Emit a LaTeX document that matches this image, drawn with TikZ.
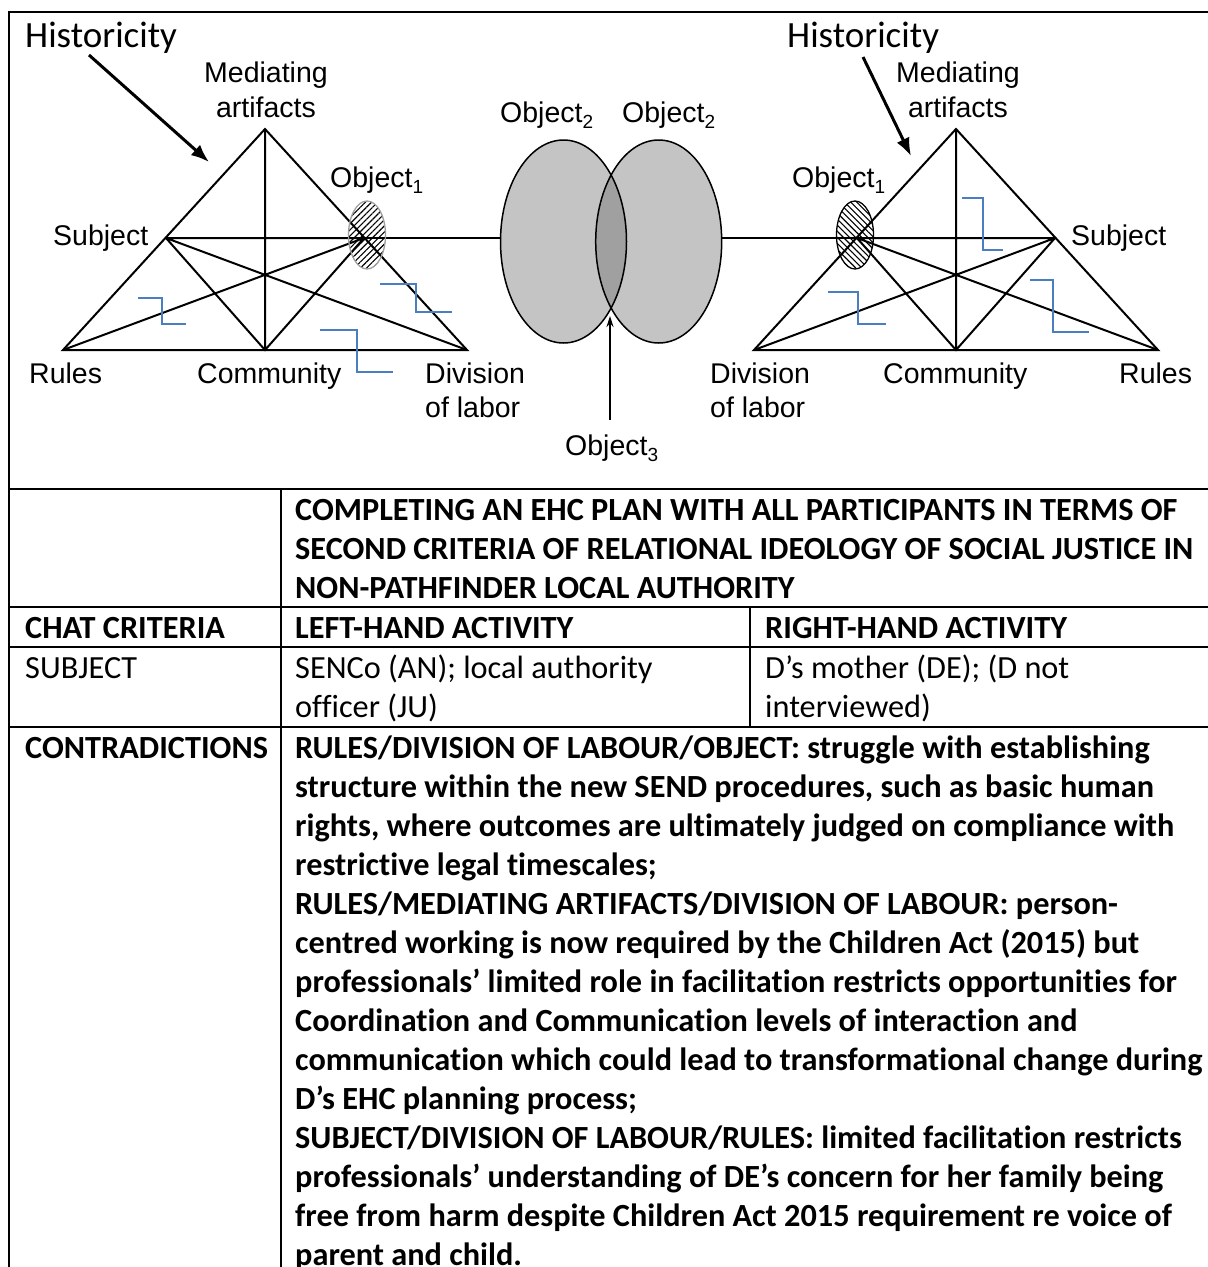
\documentclass[tikz,border=0pt]{standalone}
\usepackage{fontspec}
\setmainfont{Carlito}[Ligatures=NoCommon]
\newfontfamily\helv{Liberation Sans}
\usetikzlibrary{arrows.meta,patterns.meta,shapes.geometric}

\definecolor{objgray}{RGB}{196,196,196}
\definecolor{objdark}{RGB}{160,160,160}
\definecolor{stairblue}{RGB}{74,126,193}

% lowered index for Object_n labels
\newcommand\lowidx[1]{\raisebox{-6pt}{\fontsize{19}{19}\selectfont #1}}
% strut fixing the first baseline of a table cell
\newcommand\cellstrut{\rule{0pt}{31.5pt}}

\begin{document}
\begin{tikzpicture}[x=1pt,y=-1pt,
  tri/.style={line width=2pt, line join=miter},
  stair/.style={draw=stairblue, line width=1.6pt},
  lbl/.style={font=\helv\fontsize{28.5}{34}\selectfont, inner sep=0pt},
  histlbl/.style={font=\fontsize{37}{42}\selectfont, inner sep=0pt, anchor=base west},
  hist/.style={line width=3pt, -{Latex[length=18pt,width=14pt]}},
  objtwo/.style={ellipse, fill=objgray, minimum width=126pt, minimum height=203pt, inner sep=0pt},
  hatchL/.style={ellipse, draw=gray!75, line width=1.3pt, minimum width=37pt, minimum height=68pt, inner sep=0pt,
    pattern={Lines[angle=45,distance=4.3pt,line width=1.1pt]}},
  hatchR/.style={ellipse, draw=black, line width=1.3pt, minimum width=37pt, minimum height=68pt, inner sep=0pt,
    pattern={Lines[angle=-45,distance=4.3pt,line width=1.1pt]}},
  tbl/.style={line width=2pt},
  cell/.style={anchor=north west, inner sep=0pt, align=left, font=\fontsize{32.3}{39}\selectfont},
  bcell/.style={cell, font=\bfseries\fontsize{32.3}{39}\selectfont}
]
\useasboundingbox (0,0) rectangle (1208,1267);
\fill[white] (0,0) rectangle (1208,1267);

% ---------- left activity system ----------
\coordinate (LA) at (265,129);
\coordinate (LS) at (166,238);
\coordinate (LO) at (364,238);
\coordinate (LR) at (63,350);
\coordinate (LC) at (265,350);
\coordinate (LD) at (467,350);
\draw[tri] (LA) -- (LR) -- (LD) -- cycle;
\draw[tri] (LA) -- (LC) (LS) -- (LO) (LS) -- (LC) -- (LO) (LS) -- (LD) (LO) -- (LR);

% ---------- right activity system ----------
\coordinate (RA) at (956,129);
\coordinate (RS) at (1055,238);
\coordinate (RO) at (857,238);
\coordinate (RR) at (1158,350);
\coordinate (RC) at (956,350);
\coordinate (RD) at (754,350);
\draw[tri] (RA) -- (RR) -- (RD) -- cycle;
\draw[tri] (RA) -- (RC) (RS) -- (RO) (RS) -- (RC) -- (RO) (RS) -- (RD) (RO) -- (RR);

% ---------- shared objects ----------
\node[objtwo] (E1) at (563.5,241.5) {};
\node[objtwo] (E2) at (658.7,241.5) {};
\begin{scope}
  \clip (E1.center) ellipse [x radius=63, y radius=101.5];
  \fill[objdark] (E2.center) ellipse [x radius=63, y radius=101.5];
\end{scope}
\draw[line width=1.5pt] (E1.center) ellipse [x radius=63, y radius=101.5];
\draw[line width=1.5pt] (E2.center) ellipse [x radius=63, y radius=101.5];
\draw[tri] (LO) -- (LO -| E1.west);
\draw[tri] (RO -| E2.east) -- (RO);

% hatched first objects
\node[hatchL] (O1L) at (367,235) {};
\node[hatchR] (O1R) at (855,235) {};

% ---------- blue steps ----------
\draw[stair] (138,298) -| (162,324) -- (186,324);
\draw[stair] (380,284) -| (416,312) -- (452,312);
\draw[stair] (320,330) -| (357,372) -- (393,372);
\draw[stair] (962,198) -| (983,250) -- (1003,250);
\draw[stair] (828,292) -| (858,324) -- (886,324);
\draw[stair] (1030,280) -| (1053,332) -- (1089,332);

% ---------- labels ----------
\node[histlbl] (HL) at (25,47) {Historicity};
\node[histlbl] (HR) at (787,47) {Historicity};
\coordinate (hLs) at (89,55);
\coordinate (hLe) at (209,162);
\coordinate (hRs) at (863,57);
\coordinate (hRe) at (911,156);
\draw[hist] (hLs) -- (hLe);
\draw[hist] (hRs) -- (hRe);

\node[lbl, anchor=base] (mL1) at (266,82) {Mediating};
\node[lbl, anchor=base] (mL2) at (266,117) {artifacts};
\node[lbl, anchor=base] (mR1) at (958,82) {Mediating};
\node[lbl, anchor=base] (mR2) at (958,117) {artifacts};

\node[lbl, anchor=base west] (oL) at (330,187) {Object\lowidx{1}};
\node[lbl, anchor=base west] (oR) at (792,187) {Object\lowidx{1}};
\node[lbl, anchor=base west] (sL) at (53,245) {Subject};
\node[lbl, anchor=base west] (sR) at (1071,245) {Subject};

\node[lbl, anchor=base west] (rL) at (29,383) {Rules};
\node[lbl, anchor=base west] (rR) at (1119,383) {Rules};
\node[lbl, anchor=base west] (cL) at (197,383) {Community};
\node[lbl, anchor=base west] (cR) at (883,383) {Community};
\node[lbl, anchor=base west] (dL1) at (425,383) {Division};
\node[lbl, anchor=base west] (dL2) at (425,417) {of labor};
\node[lbl, anchor=base west] (dR1) at (710,383) {Division};
\node[lbl, anchor=base west] (dR2) at (710,417) {of labor};

\node[lbl, anchor=base west] (o2L) at (500,122) {Object\lowidx{2}};
\node[lbl, anchor=base west] (o2R) at (622,122) {Object\lowidx{2}};
\node[lbl, anchor=base west] (o3) at (565,455) {Object\lowidx{3}};
\coordinate (o3tip) at (610,316);
\draw[line width=1.3pt, -{Stealth[length=11pt,width=7pt]}] (o3tip |- 420,420) -- (o3tip);

% ---------- table ----------
\draw[tbl] (9,12) -- (1208,12);
\draw[tbl] (9,11) -- (9,1267);
\draw[tbl] (9,489) -- (1208,489);
\draw[tbl] (9,607) -- (1208,607);
\draw[tbl] (9,647) -- (1208,647);
\draw[tbl] (9,727) -- (1208,727);
\draw[tbl] (281,489) -- (281,1267);
\draw[tbl] (750,607) -- (750,727);

\node[bcell] (head) at (295,489) {\cellstrut COMPLETING AN EHC PLAN WITH ALL PARTICIPANTS IN TERMS OF\\
SECOND CRITERIA OF RELATIONAL IDEOLOGY OF SOCIAL JUSTICE IN\\
NON-PATHFINDER LOCAL AUTHORITY};

\node[bcell] (k1) at (25,607) {\cellstrut CHAT CRITERIA};
\node[bcell] (k2) at (295,607) {\cellstrut LEFT-HAND ACTIVITY};
\node[bcell] (k3) at (765,607) {\cellstrut RIGHT-HAND ACTIVITY};

\node[cell] (s1) at (25,647) {\cellstrut SUBJECT};
\node[cell] (s2) at (295,647) {\cellstrut SENCo (AN); local authority\\officer (JU)};
\node[cell] (s3) at (765,647) {\cellstrut D’s mother (DE); (D not\\interviewed)};

\node[bcell] (c1) at (25,727) {\cellstrut CONTRADICTIONS};
\node[bcell] (c2) at (295,727) {\cellstrut RULES/DIVISION OF LABOUR/OBJECT: struggle with establishing\\
structure within the new SEND procedures, such as basic human\\
rights, where outcomes are ultimately judged on compliance with\\
restrictive legal timescales;\\
RULES/MEDIATING ARTIFACTS/DIVISION OF LABOUR: person-\\
centred working is now required by the Children Act (2015) but\\
professionals’ limited role in facilitation restricts opportunities for\\
Coordination and Communication levels of interaction and\\
communication which could lead to transformational change during\\
D’s EHC planning process;\\
SUBJECT/DIVISION OF LABOUR/RULES: limited facilitation restricts\\
professionals’ understanding of DE’s concern for her family being\\
free from harm despite Children Act 2015 requirement re voice of\\
parent and child.};
\end{tikzpicture}
\end{document}
